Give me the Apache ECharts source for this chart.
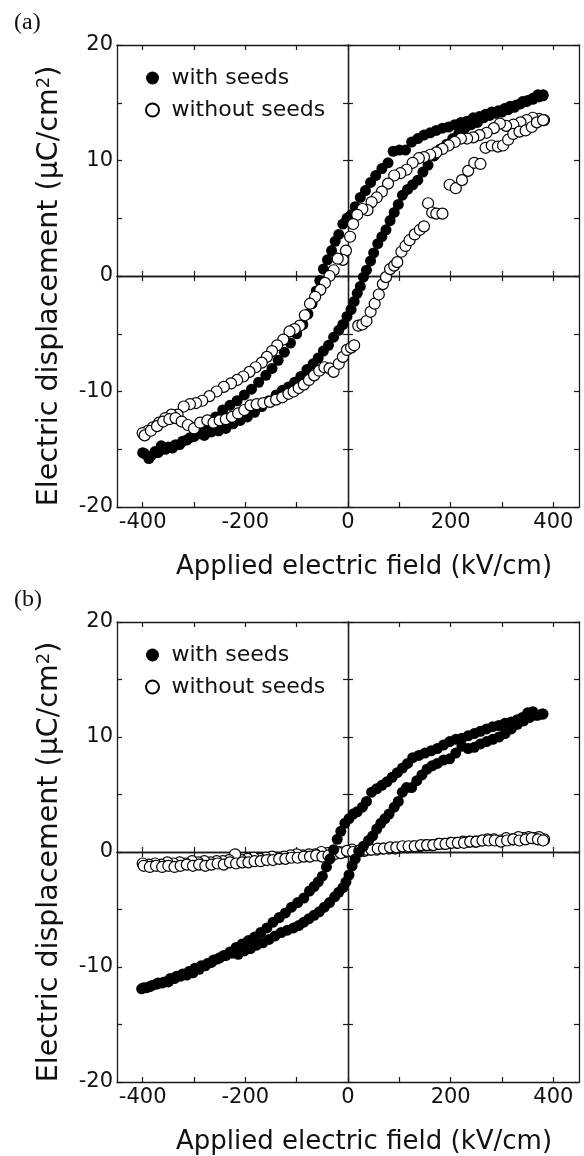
<!DOCTYPE html>
<html><head><meta charset="utf-8">
<script src="https://cdn.jsdelivr.net/npm/echarts@6/dist/echarts.min.js"></script>
<style>html,body{margin:0;padding:0;background:#fff}#c{width:584px;height:1156px}</style>
</head><body><div id="c"></div>
<script>
// ---- tick / label values ----
const xLabelValues = [-400, -200, 0, 200, 400];
const xTickValues = [-400, -300, -200, -100, 0, 100, 200, 300, 400];
const yLabelValues = [-20, -10, 0, 10, 20];
const yTickValues = [-20, -15, -10, -5, 0, 5, 10, 15, 20];
const seriesNames = ['with seeds', 'without seeds'];
const panelLabels = ['(a)', '(b)'];
const xTitle = 'Applied electric field (kV/cm)';
const yTitle = 'Electric displacement (\u03BCC/cm{sup|2})';

// ---- panel (a), with seeds ----
const aWithUpper = [[380,15.6],[370,15.7],[360,15.4],[350,15.2],[340,15.1],[328,14.8],[316,14.7],[305,14.5],[293,14.3],[280,14.2],[268,14.0],[256,13.8],[244,13.7],[232,13.4],[220,13.3],[208,13.1],[196,12.9],[184,12.8],[172,12.6],[160,12.4],[148,12.2],[136,11.9],[124,11.6],[112,10.9],[100,10.9],[88,10.8],[78,9.8],[66,9.3],[54,8.7],[44,8.1],[34,7.4],[24,6.8],[14,6.0],[6,5.3],[-2,5.0],[-10,4.5],[-18,3.6],[-25,3.0],[-32,2.2],[-40,1.4],[-48,0.6],[-55,-0.4],[-62,-1.3],[-70,-2.4],[-78,-3.3],[-88,-4.2],[-100,-5.0],[-112,-5.8],[-124,-6.6],[-136,-7.3],[-148,-8.0],[-160,-8.6],[-174,-9.2],[-188,-9.8],[-202,-10.3],[-216,-10.8],[-230,-11.2],[-244,-11.6],[-258,-12.2],[-272,-12.8],[-286,-13.4],[-300,-13.9],[-314,-14.2],[-328,-14.6],[-342,-14.9],[-356,-15.0],[-370,-15.3],[-384,-15.6],[-396,-15.4]];
const aWithLower = [[-400,-15.3],[-388,-15.8],[-376,-15.2],[-364,-14.7],[-350,-14.8],[-336,-14.6],[-322,-14.3],[-308,-14.0],[-294,-13.7],[-280,-13.8],[-266,-13.5],[-252,-13.4],[-238,-13.2],[-224,-12.8],[-210,-12.5],[-196,-12.2],[-182,-11.8],[-168,-11.3],[-154,-10.8],[-140,-10.3],[-128,-9.9],[-116,-9.6],[-104,-9.2],[-92,-8.7],[-80,-8.1],[-68,-7.6],[-58,-7.1],[-48,-6.5],[-38,-6.0],[-28,-5.3],[-18,-4.7],[-10,-4.2],[-2,-3.5],[6,-2.9],[12,-2.2],[18,-1.5],[24,-0.9],[30,-0.1],[36,0.5],[44,1.3],[50,2.0],[58,2.8],[66,3.4],[74,4.0],[82,4.8],[90,5.5],[98,6.2],[106,7.0],[116,7.5],[126,7.9],[136,8.3],[146,9.0],[156,9.6],[168,10.4],[180,11.0],[192,11.4],[204,11.9],[216,12.4],[228,12.8],[240,13.1],[252,13.3],[264,13.7],[276,13.9],[288,14.1],[300,14.2],[312,14.4],[324,14.6],[336,14.9],[348,15.1],[360,15.3],[372,15.5],[380,15.7]];

// ---- panel (a), without seeds ----
const aWithoutUpper = [[382,13.5],[372,13.6],[360,13.7],[348,13.5],[336,13.3],[322,13.1],[308,13.0],[296,13.2],[284,12.8],[270,12.4],[256,12.2],[244,12.0],[232,11.9],[220,11.9],[208,11.6],[196,11.3],[184,11.0],[172,10.7],[160,10.5],[148,10.3],[138,10.2],[126,9.8],[114,9.2],[102,8.9],[90,8.7],[78,8.0],[66,7.3],[56,6.8],[46,6.4],[38,5.7],[28,5.8],[18,5.3],[10,4.5],[4,3.4],[-4,2.2],[-10,1.4],[-20,1.5],[-28,0.5],[-36,0.0],[-45,-0.6],[-54,-1.2],[-64,-1.8],[-74,-2.4],[-84,-3.4],[-94,-4.3],[-104,-4.6],[-114,-4.8],[-126,-5.5],[-138,-6.0],[-148,-6.5],[-158,-7.0],[-168,-7.5],[-180,-7.9],[-192,-8.3],[-204,-8.7],[-216,-9.0],[-228,-9.3],[-242,-9.6],[-256,-10.0],[-270,-10.4],[-284,-10.8],[-296,-11.0],[-308,-11.1],[-320,-11.3],[-332,-12.0],[-344,-12.0],[-356,-12.3],[-368,-12.7],[-380,-13.1],[-390,-13.4],[-400,-13.6]];
const aWithoutLower = [[-396,-13.8],[-384,-13.4],[-372,-13.0],[-360,-12.6],[-348,-12.4],[-336,-12.3],[-324,-12.6],[-312,-12.9],[-300,-13.2],[-288,-12.7],[-274,-12.5],[-262,-12.7],[-250,-12.5],[-238,-12.4],[-226,-12.2],[-214,-11.9],[-202,-11.6],[-190,-11.2],[-178,-11.1],[-165,-11.0],[-152,-10.9],[-140,-10.7],[-128,-10.5],[-116,-10.2],[-106,-10.0],[-96,-9.7],[-86,-9.4],[-76,-9.0],[-66,-8.6],[-56,-8.2],[-46,-7.9],[-36,-8.0],[-28,-8.3],[-18,-7.6],[-10,-7.0],[-2,-6.4],[6,-6.2],[12,-6.0],[20,-4.3],[28,-4.2],[36,-3.9],[44,-3.1],[52,-2.4],[60,-1.6],[68,-0.7],[74,-0.1],[82,0.6],[90,0.9],[96,1.2],[104,2.1],[112,2.6],[120,3.1],[130,3.6],[140,4.0],[148,4.3],[156,6.3],[164,5.5],[172,5.4],[184,5.4],[198,7.9],[210,7.6],[222,8.3],[234,9.1],[246,9.8],[258,9.7],[268,11.1],[280,11.3],[292,11.2],[302,11.3],[312,11.8],[322,12.3],[334,12.5],[346,12.6],[358,12.9],[368,13.3],[380,13.5]];

// ---- panel (b), with seeds ----
const bWithUpper = [[380,12.0],[370,11.9],[360,12.2],[350,12.1],[340,11.7],[330,11.5],[318,11.3],[306,11.2],[294,11.0],[282,10.9],[270,10.7],[258,10.5],[246,10.3],[234,10.1],[222,9.9],[210,9.8],[198,9.6],[186,9.3],[174,9.0],[162,8.8],[150,8.6],[138,8.4],[126,8.2],[116,7.7],[106,7.3],[96,6.9],[86,6.5],[76,6.1],[66,5.8],[56,5.5],[46,5.2],[36,4.4],[28,3.9],[18,3.5],[10,3.3],[2,2.9],[-6,2.5],[-14,1.8],[-21,1.1],[-28,0.2],[-35,-0.6],[-42,-1.3],[-50,-2.1],[-58,-2.6],[-66,-3.0],[-75,-3.4],[-86,-4.0],[-98,-4.4],[-110,-4.8],[-122,-5.3],[-134,-5.7],[-146,-6.1],[-158,-6.6],[-170,-7.0],[-182,-7.4],[-194,-7.7],[-206,-8.0],[-218,-8.3],[-230,-8.7],[-242,-9.0],[-254,-9.3],[-266,-9.6],[-278,-9.9],[-290,-10.2],[-302,-10.5],[-314,-10.7],[-326,-10.8],[-338,-11.0],[-350,-11.3],[-362,-11.4],[-374,-11.5],[-386,-11.7],[-398,-11.8]];
const bWithLower = [[-402,-11.9],[-392,-11.8],[-382,-11.6],[-370,-11.4],[-358,-11.3],[-346,-11.0],[-334,-10.8],[-322,-10.6],[-310,-10.4],[-298,-10.1],[-286,-9.9],[-274,-9.7],[-262,-9.4],[-250,-9.2],[-238,-9.0],[-226,-8.8],[-214,-8.9],[-202,-8.6],[-190,-8.4],[-178,-8.1],[-166,-7.9],[-154,-7.6],[-142,-7.3],[-130,-7.0],[-118,-6.8],[-106,-6.6],[-96,-6.4],[-86,-6.1],[-76,-5.8],[-66,-5.5],[-56,-5.2],[-46,-4.8],[-36,-4.4],[-26,-3.9],[-18,-3.5],[-10,-3.1],[-4,-2.6],[2,-2.0],[8,-1.2],[14,-0.6],[22,0.0],[30,0.5],[40,1.0],[48,1.4],[56,2.0],[64,2.5],[72,2.9],[80,3.3],[90,3.9],[98,4.4],[106,5.2],[114,5.6],[124,5.6],[134,6.2],[144,6.7],[154,7.2],[164,7.5],[174,7.7],[186,8.0],[198,8.1],[210,8.6],[222,9.2],[234,9.0],[246,9.1],[258,9.4],[270,9.6],[282,9.8],[294,10.0],[306,10.3],[318,10.7],[330,11.1],[342,11.4],[354,11.7],[366,11.9],[378,12.0]];

// ---- panel (b), without seeds ----
const bWithoutUpper = [[382,1.1],[372,1.3],[362,1.2],[352,1.3],[342,1.2],[332,1.3],[320,1.1],[308,1.2],[296,1.0],[284,1.1],[272,1.1],[260,1.0],[248,0.9],[236,0.9],[224,0.9],[212,0.8],[200,0.8],[188,0.7],[176,0.7],[164,0.6],[152,0.6],[140,0.5],[128,0.5],[116,0.4],[104,0.4],[92,0.3],[80,0.3],[68,0.3],[56,0.2],[44,0.2],[32,0.1],[20,0.1],[8,0.2],[-4,0.0],[-16,0.0],[-28,-0.1],[-40,-0.1],[-52,0.0],[-64,-0.2],[-76,-0.2],[-88,-0.3],[-100,-0.2],[-112,-0.3],[-124,-0.4],[-136,-0.5],[-148,-0.4],[-160,-0.5],[-172,-0.6],[-184,-0.5],[-196,-0.6],[-208,-0.7],[-220,-0.2],[-232,-0.7],[-244,-0.8],[-256,-0.8],[-268,-0.9],[-280,-0.8],[-292,-0.9],[-304,-0.8],[-316,-1.0],[-328,-0.9],[-340,-1.0],[-352,-0.9],[-364,-1.1],[-376,-1.0],[-388,-1.1],[-400,-1.0]];
const bWithoutLower = [[-398,-1.2],[-386,-1.3],[-374,-1.2],[-362,-1.3],[-350,-1.2],[-338,-1.3],[-326,-1.2],[-314,-1.1],[-302,-1.2],[-290,-1.1],[-278,-1.2],[-266,-1.1],[-254,-1.0],[-242,-1.1],[-230,-0.9],[-218,-1.0],[-206,-0.9],[-194,-0.9],[-182,-0.8],[-170,-0.8],[-158,-0.7],[-146,-0.7],[-134,-0.6],[-122,-0.6],[-110,-0.5],[-98,-0.5],[-86,-0.4],[-74,-0.4],[-62,-0.3],[-50,-0.4],[-38,-0.3],[-26,-0.2],[-14,-0.1],[-2,0.1],[10,0.0],[22,0.1],[34,0.2],[46,0.2],[58,0.3],[70,0.3],[82,0.4],[94,0.4],[106,0.5],[118,0.5],[130,0.5],[142,0.6],[154,0.6],[166,0.6],[178,0.7],[190,0.7],[202,0.8],[214,0.8],[226,0.8],[238,0.9],[250,0.9],[262,1.0],[274,1.0],[286,1.0],[298,0.9],[310,1.0],[322,1.1],[334,1.0],[346,1.1],[358,1.2],[370,1.1],[380,1.0]];

// ---- styling / layout ----
const FONT = 'DejaVu Sans';
const AX = '#1a1a1a';
const TXT = '#111';
const grids = [
  {left: 117, right: 5, top: 45, height: 462},
  {left: 117, right: 5, top: 622, height: 461}
];

const lineStyle = {color: AX, width: 1.3};
function xAxesFor(g) {
  const yi = g * 4;
  const base = {
    gridIndex: g, type: 'value', min: -450, max: 450,
    axisLine: {onZero: false, lineStyle: lineStyle},
    axisTick: {inside: true, length: 5, customValues: xTickValues, lineStyle: {color: AX, width: 1.2}},
    axisLabel: {show: false}, splitLine: {show: false}
  };
  return [
    Object.assign({}, base, {
      position: 'bottom',
      axisLabel: {show: true, customValues: xLabelValues, fontFamily: FONT, fontSize: 21, color: TXT, margin: 5},
      name: xTitle, nameLocation: 'middle', nameGap: 47,
      nameTextStyle: {fontFamily: FONT, fontSize: 26, color: TXT, padding: [0, 0, 0, 32]}
    }),
    Object.assign({}, base, {position: 'top'}),
    Object.assign({}, base, {position: 'bottom', axisLine: {onZero: true, onZeroAxisIndex: yi, lineStyle: lineStyle}}),
    Object.assign({}, base, {position: 'top', axisLine: {onZero: true, onZeroAxisIndex: yi, lineStyle: lineStyle}})
  ];
}
function yAxesFor(g) {
  const xi = g * 4;
  const base = {
    gridIndex: g, type: 'value', min: -20, max: 20,
    axisLine: {onZero: false, lineStyle: lineStyle},
    axisTick: {inside: true, length: 5, customValues: yTickValues, lineStyle: {color: AX, width: 1.2}},
    axisLabel: {show: false}, splitLine: {show: false}
  };
  return [
    Object.assign({}, base, {
      position: 'left',
      axisLabel: {show: true, customValues: yLabelValues, fontFamily: FONT, fontSize: 21, color: TXT, margin: 4},
      name: yTitle, nameLocation: 'middle', nameGap: 53, nameRotate: 90,
      nameTextStyle: {fontFamily: FONT, fontSize: 28.5, color: TXT, padding: [0, 20, 0, 0],
        rich: {sup: {fontFamily: FONT, fontSize: 18, color: TXT, verticalAlign: 'top'}}}
    }),
    Object.assign({}, base, {position: 'right'}),
    Object.assign({}, base, {position: 'left', axisLine: {onZero: true, onZeroAxisIndex: xi, lineStyle: lineStyle}}),
    Object.assign({}, base, {position: 'right', axisLine: {onZero: true, onZeroAxisIndex: xi, lineStyle: lineStyle}})
  ];
}

const filledStyle = {color: '#000', opacity: 1};
const openStyle = {color: '#fff', borderColor: '#000', borderWidth: 1.2, opacity: 1};
function sc(name, g, data, style) {
  return {name: name, type: 'scatter', xAxisIndex: g * 4, yAxisIndex: g * 4,
    data: data, symbol: 'circle', symbolSize: 11, itemStyle: style, silent: true};
}

const option = {
  animation: false,
  backgroundColor: '#fff',
  grid: grids,
  xAxis: xAxesFor(0).concat(xAxesFor(1)),
  yAxis: yAxesFor(0).concat(yAxesFor(1)),
  legend: [67, 644].map(function (t) {
    return {data: seriesNames, orient: 'vertical', left: 145, top: t, itemWidth: 28, itemHeight: 13,
      itemGap: 10, padding: 0, icon: 'circle', selectedMode: false,
      textStyle: {fontFamily: FONT, fontSize: 22, color: TXT}};
  }),
  graphic: [
    {type: 'text', left: 14, top: 11, style: {text: panelLabels[0], font: '24px "Liberation Serif"', fill: '#111'}},
    {type: 'text', left: 14, top: 588, style: {text: panelLabels[1], font: '24px "Liberation Serif"', fill: '#111'}}
  ],
  series: [
    sc(seriesNames[0], 0, aWithUpper.concat(aWithLower), filledStyle),
    sc(seriesNames[1], 0, aWithoutUpper.concat(aWithoutLower), openStyle),
    sc(seriesNames[1], 1, bWithoutUpper.concat(bWithoutLower), openStyle),
    sc(seriesNames[0], 1, bWithUpper.concat(bWithLower), filledStyle)
  ]
};
const chart = echarts.init(document.getElementById('c'), null, {renderer: 'canvas'});
chart.setOption(option);
</script></body></html>
